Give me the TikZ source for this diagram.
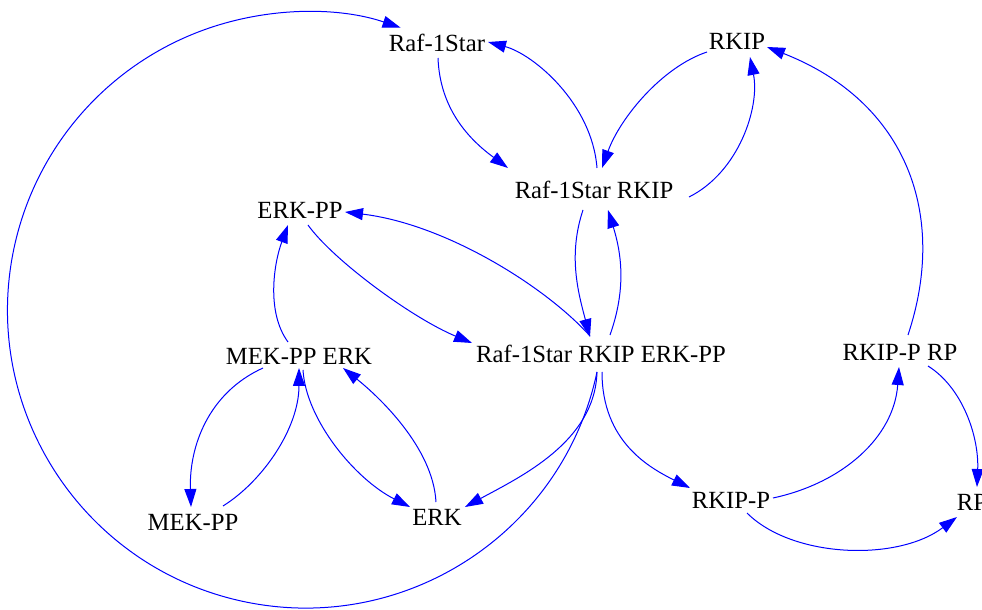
\documentclass[tikz,border=0pt]{standalone}
\usepackage{fontspec}
\setmainfont{Liberation Serif}
\usepackage{tikz}
\usetikzlibrary{arrows.meta,calc}

\begin{document}
\begin{tikzpicture}[x=0.5pt,y=-0.5pt,
  edge/.style={draw=blue, line width=0.5pt, -{Triangle[length=9pt,width=6pt]}},
  species/.style={inner sep=0pt, font=\fontsize{12.35}{14}\selectfont}]
 \path[use as bounding box] (0,0) rectangle (982,610);

\foreach \id/\x/\y/\txt in {raf/437/43/Raf-1Star, rkip/737/41/RKIP, rafrkip/594/190/Raf-1Star RKIP,
	erkpp/300/210/ERK-PP, rre/601/354/Raf-1Star RKIP ERK-PP, mekerk/299/356/MEK-PP ERK,
	rkiprp/900/352/RKIP-P RP, mekpp/193/522/MEK-PP, erk/437/517/ERK, rkipp/731/500/RKIP-P, rp/972/502/RP}
	\node[species] (\id) at (\x,\y) {\txt};

% big loop back to Raf-1Star
\draw[edge] ($(rre)+(-4,18)$) arc[start angle=12, end angle=288.6, radius=298];

\draw[edge] ($(raf)+(1,15)$) .. controls +(2,52) and +(-38,-28) .. ($(rafrkip)+(-86,-22)$);
\draw[edge] ($(rafrkip)+(3,-22)$) .. controls +(-5,-65) and +(45,12) .. ($(raf)+(51,-1)$);
\draw[edge] ($(rkip)+(-30,11)$) .. controls +(-45,15) and +(18,-50) .. ($(rafrkip)+(8,-22)$);
\draw[edge] ($(rafrkip)+(95,7)$) .. controls +(50,-25) and +(10,50) .. ($(rkip)+(13,16)$);
\draw[edge] ($(rafrkip)+(-11,20)$) .. controls +(-15,45) and +(-12,-45) .. ($(rre)+(-11,-17)$);
\draw[edge] ($(rre)+(9,-19)$) .. controls +(16,-45) and +(14,45) .. ($(rafrkip)+(14,20)$);
\draw[edge] ($(rre)+(-11,-18)$) .. controls +(-45,-50) and +(100,12) .. ($(erkpp)+(45,2)$);
\draw[edge] ($(erkpp)+(8,15)$) .. controls +(25,35) and +(-60,-25) .. ($(rre)+(-129,-11)$);

\draw[edge] ($(mekerk)+(-11,-14)$) .. controls +(-22,-30) and +(-14,38) .. ($(erkpp)+(-12,15)$);
\draw[edge] ($(mekerk)+(-36,12)$) .. controls +(-55,25) and +(-2,-60) .. ($(mekpp)+(-2,-15)$);
\draw[edge] ($(mekpp)+(30,-16)$) .. controls +(40,-25) and +(0,60) .. ($(mekerk)+(0,12)$);
\draw[edge] ($(mekerk)+(4,14)$) .. controls +(3,50) and +(-55,-28) .. ($(erk)+(-27,-10)$);
\draw[edge] ($(erk)+(-1,-15)$) .. controls +(-3,-55) and +(35,28) .. ($(mekerk)+(44,12)$);
\draw[edge] ($(rre)+(-4,18)$) .. controls +(-2,70) and +(55,-30) .. ($(erk)+(28,-10)$);

\draw[edge] ($(rre)+(1,18)$) .. controls +(0,70) and +(-40,-20) .. ($(rkipp)+(-41,-12)$);
\draw[edge] ($(rkipp)+(42,-2)$) .. controls +(70,-15) and +(-5,70) .. ($(rkiprp)+(-1,15)$);
\draw[edge] ($(rkiprp)+(8,-17)$) .. controls +(40,-120) and +(140,55) .. ($(rkip)+(30,6)$);
\draw[edge] ($(rkiprp)+(28,14)$) .. controls +(35,22) and +(2,-50) .. ($(rp)+(5,-15)$);
\draw[edge] ($(rkipp)+(16,13)$) .. controls +(45,45) and +(-60,45) .. ($(rp)+(-15,15)$);

\end{tikzpicture}
\end{document}
